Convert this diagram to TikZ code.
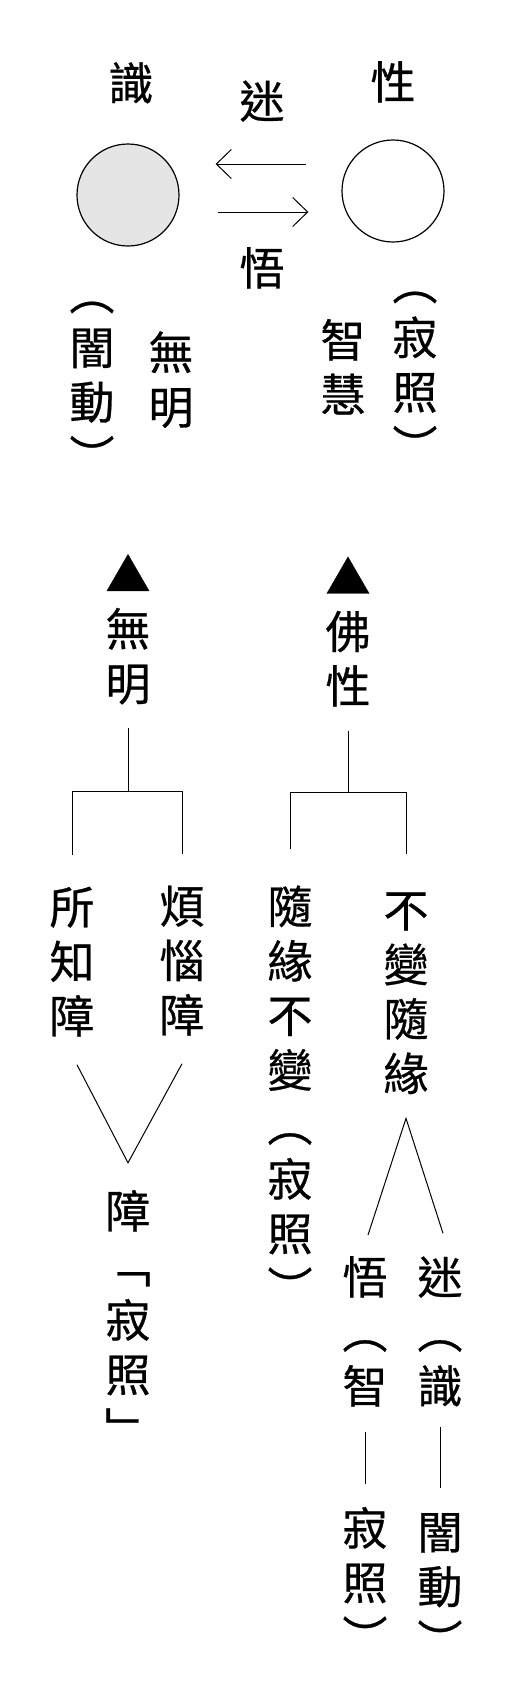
\documentclass[tikz,border=0pt]{standalone}
\usepackage{fontspec}
\newfontfamily\cjk[FakeBold=0.6]{Noto Sans CJK TC}
\usetikzlibrary{arrows.meta}

\begin{document}
\begin{tikzpicture}[x=1pt, y=-1pt,
    vtext/.style={align=center, inner sep=0pt, anchor=base, font=\cjk\fontsize{45}{54.5}\selectfont},
    dot/.style={circle, draw=black, line width=1.2pt, minimum size=102pt, inner sep=0pt},
    conn/.style={draw=black, line width=1pt},
    arr/.style={conn, -{Straight Barb[length=15pt, width=29pt]}}
    ]
    \useasboundingbox (0,0) rectangle (522,1697);

    % top: the two circles
    \node[dot, fill=gray!20] (shic) at (128,195) {};
    \node[dot] (xingc) at (393,191) {};
    \node[vtext] (shi) at (131,100) {識};
    \node[vtext] (xing) at (393,99) {性};
    \node[vtext] (mi) at (262,118) {迷};
    \node[vtext] (wu) at (262,285) {悟};
    \draw[arr] ([xshift=-35pt,yshift=27pt]xingc.west) -- ([xshift=36pt,yshift=31pt]shic.east);
    \draw[arr] ([xshift=38pt,yshift=-17pt]shic.east) -- ([xshift=-33pt,yshift=-21pt]xingc.west);

    % base = last line
    \node[vtext] (andong) at (92,473.5) {︵\\闇\\動\\︶};
    \node[vtext] (wuming) at (171,424) {無\\明};
    \node[vtext] (zhihui) at (343,411.5) {智\\慧};
    \node[vtext] (jizhao) at (415,463.5) {︵\\寂\\照\\︶};

    % the two trees
    \node[vtext] (wuming2) at (128,700.5) {▲\\無\\明};
    \node[vtext] (foxing) at (348,703) {▲\\佛\\性};
    \node[vtext] (suozhi) at (72,1033) {所\\知\\障};
    \node[vtext] (fannao) at (182,1032) {煩\\惱\\障};
    \node[vtext] (suiyuan) at (290,1305) {隨\\緣\\不\\變\\︵\\寂\\照\\︶};
    \node[vtext] (bubian) at (406,1090.5) {不\\變\\隨\\緣};
    \node[vtext] (zhang) at (128,1446) {障\\﹁\\寂\\照\\﹂};
    \node[vtext] (wuzhi) at (365,1403) {悟\\︵\\智};
    \node[vtext] (jizhao2) at (365,1654) {寂\\照\\︶};
    \node[vtext] (mishi) at (440,1403) {迷\\︵\\識};
    \node[vtext] (andong2) at (440,1658) {闇\\動\\︶};

    \coordinate (forkL) at (130,791);
    \coordinate (forkR) at (352,792);
    \draw[conn] ([yshift=-23pt]wuming2.south) -- (wuming2.south |- forkL);
    \draw[conn] ([yshift=32pt]suozhi.north) |- (forkL) -| ([yshift=32pt]fannao.north);
    \draw[conn] ([yshift=-24pt]foxing.south) -- (foxing.south |- forkR);
    \draw[conn] ([yshift=36pt]suiyuan.north) |- (forkR) -| ([yshift=38pt]bubian.north);

    \draw[conn] ([xshift=5pt,yshift=-28pt]suozhi.south) -- ([yshift=27pt]zhang.north) -- ([yshift=-28pt]fannao.south);
    \draw[conn] ([xshift=3pt,yshift=21pt]wuzhi.north) -- ([yshift=-24pt]bubian.south) -- ([xshift=3pt,yshift=23pt]mishi.north);

    \draw[conn] ([yshift=-25pt]wuzhi.south) -- ([yshift=23pt]jizhao2.north);
    \draw[conn] ([yshift=-20pt]mishi.south) -- ([yshift=25pt]andong2.north);
\end{tikzpicture}
\end{document}
